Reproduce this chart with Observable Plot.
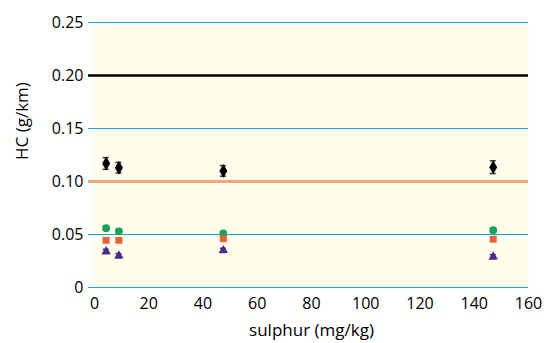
<!DOCTYPE html>
<html>
<head>
<meta charset="utf-8">
<script src="https://cdn.jsdelivr.net/npm/d3@7"></script>
<script src="https://cdn.jsdelivr.net/npm/@observablehq/plot@0.6"></script>
<style>
  html, body { margin: 0; padding: 0; background: #fff; }
  svg { font-family: "Open Sans", sans-serif; }
</style>
</head>
<body>
<div id="chart"></div>
<script>
const sulphur = [4.3, 9, 47.5, 147];
const hcBlack = [0.117, 0.113, 0.110, 0.1135];
const errBlack = [0.0055, 0.005, 0.005, 0.006];
const hcGreen = [0.056, 0.053, 0.051, 0.054];
const errGreen = [0.002, 0.002, 0.0015, 0.002];
const hcOrange = [0.0445, 0.0445, 0.046, 0.0455];
const errOrange = [0.0015, 0.0015, 0.0015, 0.0015];
const hcPurple = [0.034, 0.030, 0.035, 0.029];
const errPurple = [0.002, 0.002, 0.002, 0.002];
const yTicks = [0, 0.05, 0.10, 0.15, 0.20, 0.25];
const yTickLabels = ["0", "0.05", "0.10", "0.15", "0.20", "0.25"];
const xTicks = [0, 20, 40, 60, 80, 100, 120, 140, 160];
const xLabel = "sulphur (mg/kg)";
const yLabel = "HC (g/km)";
const limitBlack = 0.20;
const limitOrange = 0.10;

const seriesDefs = [
  {vals: hcBlack, err: errBlack, symbol: "diamond", color: "#000000", r: 4.2, bar: "#333"},
  {vals: hcGreen, err: errGreen, symbol: "circle", color: "#19a05a", r: 3.9, bar: "#19a05a"},
  {vals: hcOrange, err: errOrange, symbol: "square", color: "#e8613a", r: 3.9, bar: "#e8613a"},
  {vals: hcPurple, err: errPurple, symbol: "triangle", color: "#4b2a8a", r: 3.5, bar: "#4b2a8a"}
];

const marks = [
  Plot.frame({fill: "#fffdec", stroke: null}),
  Plot.ruleY(yTicks.filter(t => t !== limitBlack && t !== limitOrange), {stroke: "#1da1e2", strokeWidth: 1.2, insetLeft: -6}),
  Plot.ruleY([limitBlack], {stroke: "#000", strokeWidth: 2.5, insetLeft: -6}),
  Plot.ruleY([limitOrange], {stroke: "#f4a77a", strokeWidth: 3, insetLeft: -6}),
  Plot.axisY({ticks: yTicks, tickFormat: d => yTickLabels[yTicks.indexOf(d)], tickSize: 0, tickPadding: 11, fontSize: 16, label: null}),
  Plot.axisX({ticks: xTicks, tickSize: 0, tickPadding: 10, fontSize: 16, label: null}),
  Plot.text([xLabel], {text: d => d, frameAnchor: "bottom", lineAnchor: "middle", dy: 43, fontSize: 17}),
  Plot.text([yLabel], {text: d => d, frameAnchor: "left", lineAnchor: "middle", rotate: -90, dx: -72, dy: 5, fontSize: 17})
];

for (const s of seriesDefs) {
  const data = sulphur.map((x, i) => ({x, y: s.vals[i], lo: s.vals[i] - s.err[i], hi: s.vals[i] + s.err[i]}));
  marks.push(Plot.ruleX(data, {x: "x", y1: "lo", y2: "hi", stroke: s.bar, strokeWidth: 1.5}));
  marks.push(Plot.ruleY(data, {x1: "x", x2: "x", y: "hi", stroke: s.bar, strokeWidth: 1.5, insetLeft: -3, insetRight: -3}));
  marks.push(Plot.ruleY(data, {x1: "x", x2: "x", y: "lo", stroke: s.bar, strokeWidth: 1.5, insetLeft: -3, insetRight: -3}));
  marks.push(Plot.dot(data, {x: "x", y: "y", symbol: () => s.symbol, fill: s.color, stroke: "none", r: s.r}));
}

const chart = Plot.plot({
  width: 544,
  height: 343,
  marginLeft: 94,
  marginRight: 16,
  marginTop: 22,
  marginBottom: 56,
  style: {fontFamily: "'Open Sans', sans-serif", fontSize: "16px", color: "#000", background: "#fff"},
  x: {domain: [0, 160]},
  y: {domain: [0, 0.25]},
  symbol: {type: "identity"},
  marks
});
document.getElementById("chart").appendChild(chart);
</script>
</body>
</html>
